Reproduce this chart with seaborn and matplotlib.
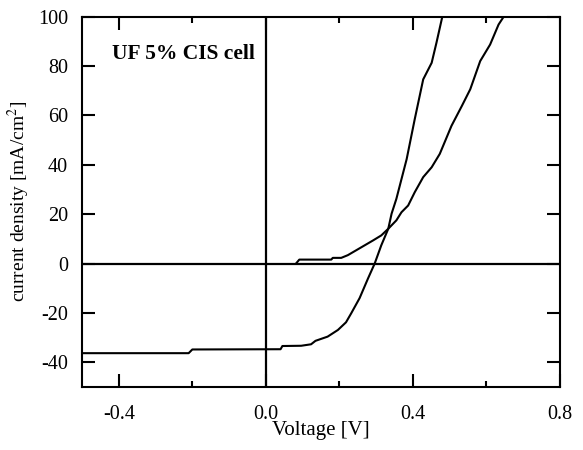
import matplotlib
matplotlib.use("Agg")
import matplotlib.pyplot as plt
import seaborn as sns
import pandas as pd
from matplotlib.ticker import MultipleLocator

# Illuminated J-V curve
light_v = [-0.50, -0.21, -0.20, 0.04, 0.045, 0.096, 0.123, 0.135, 0.168, 0.196, 0.218,
           0.232, 0.255, 0.278, 0.296, 0.314, 0.333, 0.342, 0.355,
           0.383, 0.405, 0.428, 0.451, 0.464, 0.480]
light_j = [-36.3, -36.3, -34.8, -34.7, -33.4, -33.3, -32.7, -31.3, -29.6, -26.9, -23.8,
           -20.2, -14.0, -6.0, 0.0, 7.4, 14.1, 20.2, 26.2,
           42.3, 58.5, 74.6, 81.3, 89.4, 100.0]

# Dark J-V curve
dark_v = [0.082, 0.091, 0.178, 0.182, 0.205, 0.223, 0.246, 0.269, 0.292, 0.314, 0.333,
          0.355, 0.369, 0.387, 0.405, 0.428, 0.451, 0.473, 0.505, 0.533,
          0.556, 0.583, 0.61, 0.633, 0.647]
dark_j = [0.0, 1.6, 1.6, 2.3, 2.3, 3.4, 5.4, 7.4, 9.4, 11.4, 14.1,
          17.5, 20.8, 23.5, 28.9, 35.0, 39.0, 44.4, 55.8, 63.8,
          70.6, 82.0, 88.7, 96.8, 100.0]

x_ticks = [-0.4, 0.0, 0.4, 0.8]
x_tick_labels = ["-0.4", "0.0", "0.4", "0.8"]
y_ticks = [-40, -20, 0, 20, 40, 60, 80, 100]

sns.set_style("ticks")
plt.rcParams['font.family'] = ['Liberation Serif', 'DejaVu Serif']
plt.rcParams['mathtext.fontset'] = 'stix'
plt.rcParams['text.color'] = 'black'
plt.rcParams['axes.labelcolor'] = 'black'
plt.rcParams['xtick.color'] = 'black'
plt.rcParams['ytick.color'] = 'black'

fig = plt.figure(figsize=(5.83, 4.5), dpi=100)
ax = fig.add_axes([0.1407, 0.140, 0.8198, 0.823])

df_l = pd.DataFrame({"V": light_v, "J": light_j})
df_d = pd.DataFrame({"V": dark_v, "J": dark_j})
sns.lineplot(data=df_l, x="V", y="J", sort=False, color="black", lw=1.5, ax=ax)
sns.lineplot(data=df_d, x="V", y="J", sort=False, color="black", lw=1.5, ax=ax)

ax.axhline(0, color="black", lw=1.6)
ax.axvline(0, color="black", lw=1.6)

ax.set_xlim(-0.5, 0.8)
ax.set_ylim(-50, 100)
ax.set_xticks(x_ticks)
ax.set_xticklabels(x_tick_labels)
ax.xaxis.set_minor_locator(MultipleLocator(0.2))
ax.set_yticks(y_ticks)
ax.set_yticklabels([str(t) for t in y_ticks])

ax.tick_params(axis="both", which="major", direction="in", length=9.5, width=1.5,
               top=True, right=True, labelsize=14.5, color="black", labelcolor="black")
ax.tick_params(axis="y", which="major", pad=10)
ax.tick_params(axis="x", which="major", pad=13)
ax.tick_params(axis="x", which="minor", direction="in", length=4.5, width=1.5,
               top=True, bottom=True)
for s in ax.spines.values():
    s.set_linewidth(1.5)
    s.set_color("black")

ax.set_xlabel("Voltage [V]", fontsize=15, labelpad=-2, color="black")
ax.set_ylabel(r"current density [mA/cm$^2$]", fontsize=14, labelpad=4, color="black")

ax.text(0.062, 0.898, "UF 5% CIS cell", transform=ax.transAxes, fontsize=15.5,
        fontweight="bold", va="center", ha="left", color="black")

fig.savefig("out.png", dpi=100)
